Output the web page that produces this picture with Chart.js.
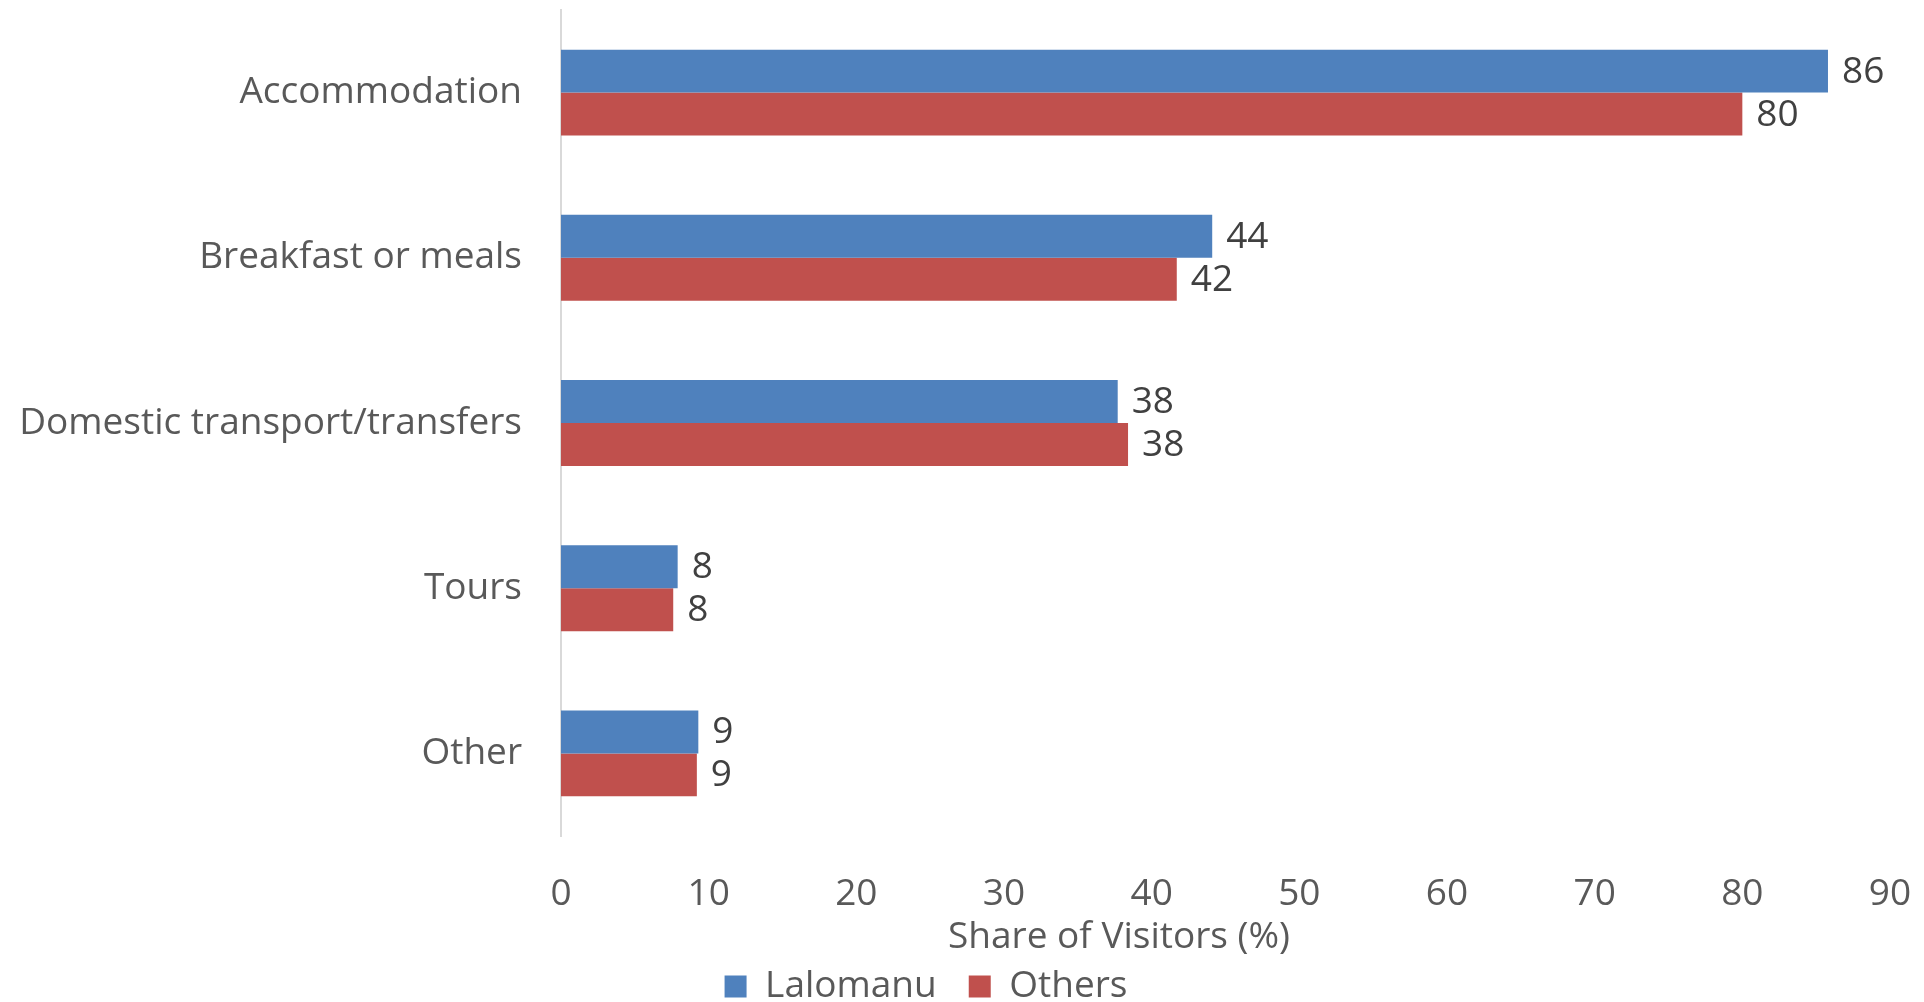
<!DOCTYPE html>
<html>
<head>
    <title>Share of Visitors by Expense Type</title>
    <script src="https://cdn.jsdelivr.net/npm/chart.js"></script>
    <style>
        html, body { margin: 0; padding: 0; background: #fff; }
        #wrap { width: 1924px; height: 1002px; }
    </style>
</head>
<body>
    <div id="wrap">
        <canvas id="shareChart" width="1924" height="1002"></canvas>
    </div>

    <script>
        const categories = ['Accommodation', 'Breakfast or meals', 'Domestic transport/transfers', 'Tours', 'Other'];
        const lalomanu = [85.8, 44.1, 37.7, 7.9, 9.3];
        const others = [80.0, 41.7, 38.4, 7.6, 9.2];
        const xTickMin = 0;
        const xTickMax = 90;
        const xTickStep = 10;

        const FONT = "'Open Sans', sans-serif";
        const textGrey = '#595959';

        // value labels at the end of every bar
        const barLabels = {
            id: 'barLabels',
            afterDatasetsDraw(chart) {
                const ctx = chart.ctx;
                ctx.save();
                ctx.font = '37px ' + FONT;
                ctx.fillStyle = '#404040';
                ctx.textAlign = 'left';
                ctx.textBaseline = 'middle';
                chart.data.datasets.forEach((ds, i) => {
                    chart.getDatasetMeta(i).data.forEach((bar, j) => {
                        ctx.fillText(Math.round(ds.data[j]), bar.x + 14, bar.y + 1);
                    });
                });
                ctx.restore();
            }
        };

        // axis title sits a little left of the plot centre
        const axisTitle = {
            id: 'axisTitle',
            afterDraw(chart) {
                const ctx = chart.ctx;
                ctx.save();
                ctx.font = '37px ' + FONT;
                ctx.fillStyle = textGrey;
                ctx.textAlign = 'center';
                ctx.textBaseline = 'middle';
                ctx.fillText('Share of Visitors (%)', 1119, 937);
                ctx.restore();
            }
        };

        // nudge the legend row a bit to the left
        const legendShift = {
            id: 'legendShift',
            afterLayout(chart) {
                if (chart.legend) chart.legend.right -= 38;
            }
        };

        const ctx = document.getElementById('shareChart').getContext('2d');
        new Chart(ctx, {
            type: 'bar',
            data: {
                labels: categories,
                datasets: [
                    { label: 'Lalomanu', data: lalomanu, backgroundColor: '#4F81BD' },
                    { label: 'Others', data: others, backgroundColor: '#C0504D' }
                ]
            },
            options: {
                indexAxis: 'y',
                responsive: false,
                animation: false,
                categoryPercentage: 0.52,
                barPercentage: 1.0,
                layout: { padding: { top: 10, right: 34, left: 0, bottom: 0 } },
                plugins: {
                    legend: {
                        position: 'bottom',
                        maxHeight: 66,
                        labels: {
                            font: { family: FONT, size: 37 },
                            color: textGrey,
                            boxWidth: 22,
                            boxHeight: 22,
                            padding: 32
                        }
                    },
                    tooltip: { enabled: false }
                },
                scales: {
                    x: {
                        min: xTickMin,
                        max: xTickMax,
                        ticks: {
                            stepSize: xTickStep,
                            font: { family: FONT, size: 37 },
                            color: textGrey,
                            padding: 36
                        },
                        grid: { display: false, drawTicks: false },
                        border: { display: false },
                        afterFit(scale) {
                            scale.height = 100;
                            scale.paddingLeft = 0;
                            scale.paddingRight = 0;
                        }
                    },
                    y: {
                        ticks: {
                            font: { family: FONT, size: 37 },
                            color: textGrey,
                            padding: 0
                        },
                        grid: { display: false, drawTicks: true, tickLength: 39 },
                        border: { display: true, color: '#D9D9D9', width: 2 },
                        afterFit(scale) {
                            scale.width = 561;
                            scale.paddingTop = 0;
                            scale.paddingBottom = 0;
                        }
                    }
                }
            },
            plugins: [barLabels, axisTitle, legendShift]
        });
    </script>
</body>
</html>
